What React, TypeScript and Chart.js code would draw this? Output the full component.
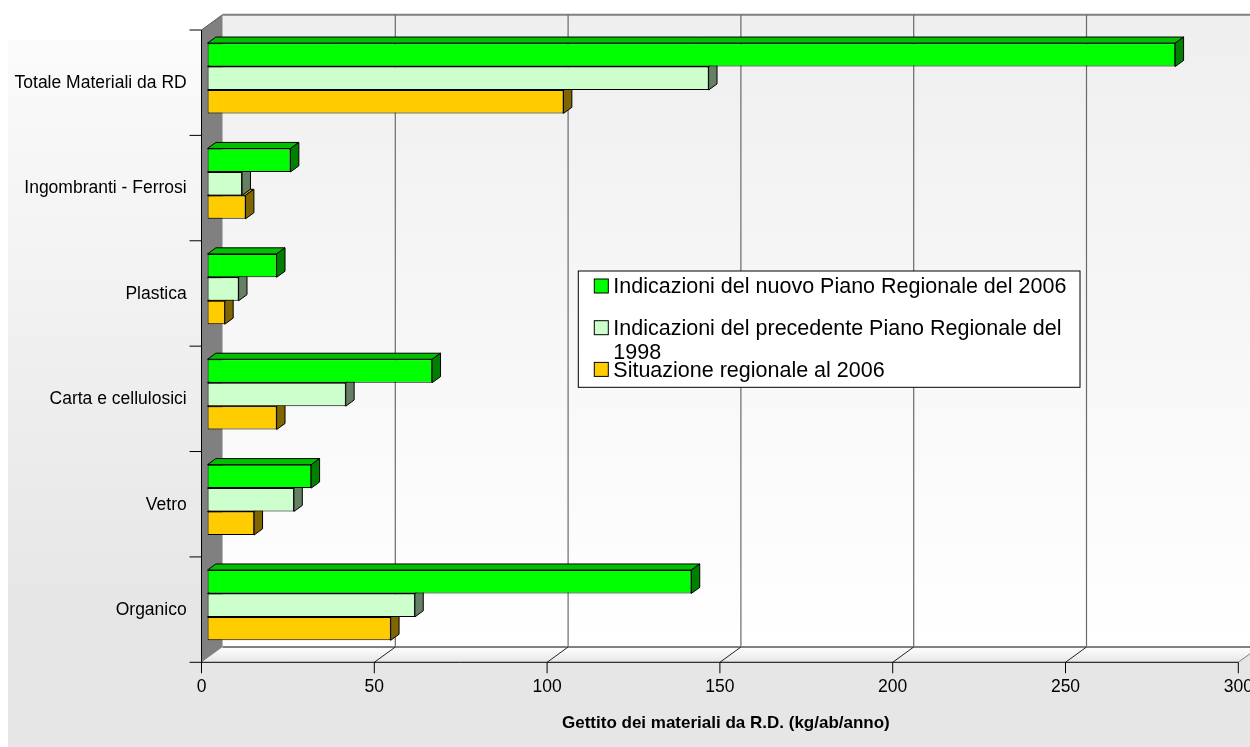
import React, { useEffect, useRef } from 'react';
import { Chart, registerables } from 'chart.js';

Chart.register(...registerables);

// ---- data ----
const categories = [
  'Totale Materiali da RD',
  'Ingombranti - Ferrosi',
  'Plastica',
  'Carta e cellulosici',
  'Vetro',
  'Organico',
];
const nuovoPiano2006 = [280, 24, 20, 65, 30, 140];
const precedentePiano1998 = [145, 10, 9, 40, 25, 60];
const situazione2006 = [103, 11, 5, 20, 13.5, 53];
const seriesLabels = [
  'Indicazioni del nuovo Piano Regionale del 2006',
  'Indicazioni del precedente Piano Regionale del 1998',
  'Situazione regionale al 2006',
];
const xTicks = [0, 50, 100, 150, 200, 250, 300];
const axisTitle = 'Gettito dei materiali da R.D. (kg/ab/anno)';

// ---- styles ----
const FONT = "'Liberation Sans', Arial, Helvetica, sans-serif";
const frontColors = ['#00FF00', '#CCFFCC', '#FFCC00'];
const topColors = ['#00C000', '#99BF99', '#BF9900'];
const sideColors = ['#008000', '#668066', '#806600'];

// 3D geometry (pixels)
const DX = 21; // wall depth x
const DY = -15.3; // wall depth y
const SHIFT_X = 6; // bar plane vs front plane
const SHIFT_Y = 4.4;
const BDX = 8.4; // bar depth
const BDY = -6.1;

const CANVAS_W = 1290;
const CANVAS_H = 739;

const frame3d = {
  id: 'frame3d',
  beforeDraw(chart: any) {
    const { ctx, width, height } = chart;
    ctx.save();
    ctx.fillStyle = '#ffffff';
    ctx.fillRect(0, 0, width, height);
    const g = ctx.createLinearGradient(0, 32, 0, 600);
    g.addColorStop(0, '#fbfbfb');
    g.addColorStop(1, '#e6e6e6');
    ctx.fillStyle = g;
    ctx.fillRect(0, 32, width, height - 32);
    ctx.restore();
  },
  beforeDatasetsDraw(chart: any) {
    const { ctx, chartArea: a, scales } = chart;
    const xs = scales.x;
    const FL = a.left - SHIFT_X;
    const FT = a.top + SHIFT_Y;
    const FB = a.bottom + SHIFT_Y;
    const FR = xs.getPixelForValue(xTicks[xTicks.length - 1]) - SHIFT_X;
    const fx = (v: number) => xs.getPixelForValue(v) - SHIFT_X;
    ctx.save();

    // back wall
    const wg = ctx.createLinearGradient(0, FT + DY, 0, FB + DY);
    wg.addColorStop(0, '#efefef');
    wg.addColorStop(1, '#ffffff');
    ctx.fillStyle = wg;
    ctx.fillRect(FL + DX, FT + DY, FR - FL, FB - FT);
    ctx.strokeStyle = '#808080';
    ctx.lineWidth = 2;
    ctx.beginPath();
    ctx.moveTo(FL + DX, FT + DY);
    ctx.lineTo(FR + DX, FT + DY);
    ctx.lineTo(FR + DX, FB + DY);
    ctx.stroke();

    // gridlines on back wall
    ctx.strokeStyle = '#6a6a6a';
    ctx.lineWidth = 1.2;
    xTicks.forEach((v) => {
      if (v === 0) return;
      const bx = fx(v) + DX;
      ctx.beginPath();
      ctx.moveTo(bx, FT + DY);
      ctx.lineTo(bx, FB + DY);
      ctx.stroke();
    });

    // floor
    const fg = ctx.createLinearGradient(0, FB + DY, 0, FB);
    fg.addColorStop(0, '#ffffff');
    fg.addColorStop(1, '#e6e6e6');
    ctx.fillStyle = fg;
    ctx.beginPath();
    ctx.moveTo(FL, FB);
    ctx.lineTo(FR, FB);
    ctx.lineTo(FR + DX, FB + DY);
    ctx.lineTo(FL + DX, FB + DY);
    ctx.closePath();
    ctx.fill();
    ctx.strokeStyle = '#808080';
    ctx.lineWidth = 2;
    ctx.beginPath();
    ctx.moveTo(FL + DX, FB + DY);
    ctx.lineTo(FR + DX, FB + DY);
    ctx.stroke();
    ctx.lineWidth = 1;
    ctx.beginPath();
    ctx.moveTo(FR, FB);
    ctx.lineTo(FR + DX, FB + DY);
    ctx.stroke();

    // floor diagonal tick lines
    ctx.strokeStyle = '#222';
    ctx.lineWidth = 1;
    xTicks.forEach((v) => {
      if (v === 0 || v === xTicks[xTicks.length - 1]) return;
      ctx.beginPath();
      ctx.moveTo(fx(v), FB);
      ctx.lineTo(fx(v) + DX, FB + DY);
      ctx.stroke();
    });

    // left wall
    ctx.fillStyle = '#808080';
    ctx.beginPath();
    ctx.moveTo(FL, FT);
    ctx.lineTo(FL + DX, FT + DY);
    ctx.lineTo(FL + DX, FB + DY);
    ctx.lineTo(FL, FB);
    ctx.closePath();
    ctx.fill();
    ctx.strokeStyle = '#555';
    ctx.lineWidth = 1;
    ctx.beginPath();
    ctx.moveTo(FL, FT);
    ctx.lineTo(FL + DX, FT + DY);
    ctx.stroke();

    // axis lines
    ctx.strokeStyle = '#000';
    ctx.lineWidth = 1;
    ctx.beginPath();
    ctx.moveTo(FL, FT);
    ctx.lineTo(FL, FB);
    ctx.lineTo(FR, FB);
    ctx.stroke();

    // left ticks (category boundaries)
    const n = categories.length;
    for (let k = 0; k <= n; k++) {
      const y = FT + (k * (FB - FT)) / n;
      ctx.beginPath();
      ctx.moveTo(FL - 12, y);
      ctx.lineTo(FL, y);
      ctx.stroke();
    }
    // bottom ticks
    xTicks.forEach((v) => {
      ctx.beginPath();
      ctx.moveTo(fx(v), FB);
      ctx.lineTo(fx(v), FB + 11);
      ctx.stroke();
    });
    ctx.restore();
  },
  beforeDatasetDraw(chart: any, args: any) {
    const { ctx } = chart;
    const meta = args.meta;
    const di = args.index;
    ctx.save();
    ctx.strokeStyle = '#000';
    ctx.lineWidth = 1;
    ctx.lineJoin = 'miter';
    meta.data.forEach((el: any) => {
      const p = el.getProps(['x', 'y', 'base', 'height'], true);
      const left = Math.min(p.base, p.x);
      const right = Math.max(p.base, p.x);
      const top = p.y - p.height / 2;
      const bottom = p.y + p.height / 2;
      // top face
      ctx.fillStyle = topColors[di];
      ctx.beginPath();
      ctx.moveTo(left, top);
      ctx.lineTo(left + BDX, top + BDY);
      ctx.lineTo(right + BDX, top + BDY);
      ctx.lineTo(right, top);
      ctx.closePath();
      ctx.fill();
      ctx.stroke();
      // side face
      ctx.fillStyle = sideColors[di];
      ctx.beginPath();
      ctx.moveTo(right, top);
      ctx.lineTo(right + BDX, top + BDY);
      ctx.lineTo(right + BDX, bottom + BDY);
      ctx.lineTo(right, bottom);
      ctx.closePath();
      ctx.fill();
      ctx.stroke();
    });
    ctx.restore();
  },
  afterDraw(chart: any) {
    const { ctx } = chart;
    const box = { x: 570.3, y: 263, w: 501.7, h: 116.3 };
    ctx.save();
    ctx.fillStyle = '#ffffff';
    ctx.fillRect(box.x, box.y, box.w, box.h);
    ctx.strokeStyle = '#000';
    ctx.lineWidth = 1;
    ctx.strokeRect(box.x, box.y, box.w, box.h);
    ctx.font = `21.5px ${FONT}`;
    ctx.textBaseline = 'alphabetic';
    ctx.textAlign = 'left';
    const textX = 605.3;
    const maxW = 460;
    const baselines = [285.3, 327, 368.7];
    chart.data.datasets.forEach((ds: any, i: number) => {
      const b = baselines[i];
      ctx.fillStyle = ds.backgroundColor;
      ctx.fillRect(586.3, b - 14.3, 14, 14);
      ctx.strokeStyle = '#000';
      ctx.strokeRect(586.3, b - 14.3, 14, 14);
      // word wrap
      const words = String(ds.label).split(' ');
      const lines: string[] = [];
      let cur = '';
      words.forEach((w) => {
        const t = cur ? cur + ' ' + w : w;
        if (ctx.measureText(t).width > maxW && cur) {
          lines.push(cur);
          cur = w;
        } else cur = t;
      });
      if (cur) lines.push(cur);
      ctx.fillStyle = '#000';
      lines.forEach((ln, j) => ctx.fillText(ln, textX, b + j * 24));
    });
    ctx.restore();
  },
};

export default function App() {
  const ref = useRef<HTMLCanvasElement>(null);
  useEffect(() => {
    if (!ref.current) return;
    const datasets = [nuovoPiano2006, precedentePiano1998, situazione2006].map((d, i) => ({
      label: seriesLabels[i],
      data: d,
      backgroundColor: frontColors[i],
      borderColor: '#000',
      borderWidth: 1,
      borderSkipped: false as const,
      categoryPercentage: 0.667,
      barPercentage: 1,
    }));
    const chart = new Chart(ref.current, {
      type: 'bar',
      data: { labels: categories, datasets },
      options: {
        indexAxis: 'y',
        responsive: false,
        animation: false,
        events: [],
        layout: { padding: { left: 0, top: 17.6, right: CANVAS_W - 1236.3, bottom: 0 } },
        plugins: { legend: { display: false }, tooltip: { enabled: false } },
        scales: {
          y: {
            type: 'category',
            position: 'left',
            grid: {
              display: true,
              drawOnChartArea: false,
              drawTicks: true,
              tickLength: 20.8,
              color: 'rgba(0,0,0,0)',
            },
            border: { display: false },
            afterFit: (s: any) => {
              s.width = 199.5;
            },
            ticks: {
              color: '#000',
              font: { family: FONT, size: 17.5 },
              padding: 0,
              labelOffset: 4.9,
              autoSkip: false,
            },
          },
          x: {
            type: 'linear',
            position: 'bottom',
            min: 0,
            max: 300,
            afterFit: (s: any) => {
              s.height = CANVAS_H - 649.9;
            },
            afterBuildTicks: (s: any) => {
              s.ticks = xTicks.map((v) => ({ value: v }));
            },
            grid: { display: false, drawTicks: false },
            border: { display: false },
            ticks: {
              color: '#000',
              font: { family: FONT, size: 17.5 },
              padding: 18.8,
              labelOffset: -SHIFT_X,
              maxRotation: 0,
            },
            title: {
              display: true,
              text: axisTitle,
              color: '#000',
              font: { family: FONT, size: 17, weight: 'bold' },
              padding: { top: 0, bottom: 13.4 },
            },
          },
        },
      },
      plugins: [frame3d],
    });
    return () => chart.destroy();
  }, []);
  return (
    <div
      style={{
        position: 'fixed',
        left: 8,
        top: 8,
        width: 1242,
        height: CANVAS_H,
        overflow: 'hidden',
      }}
    >
      <canvas ref={ref} width={CANVAS_W} height={CANVAS_H} style={{ display: 'block' }} />
    </div>
  );
}
